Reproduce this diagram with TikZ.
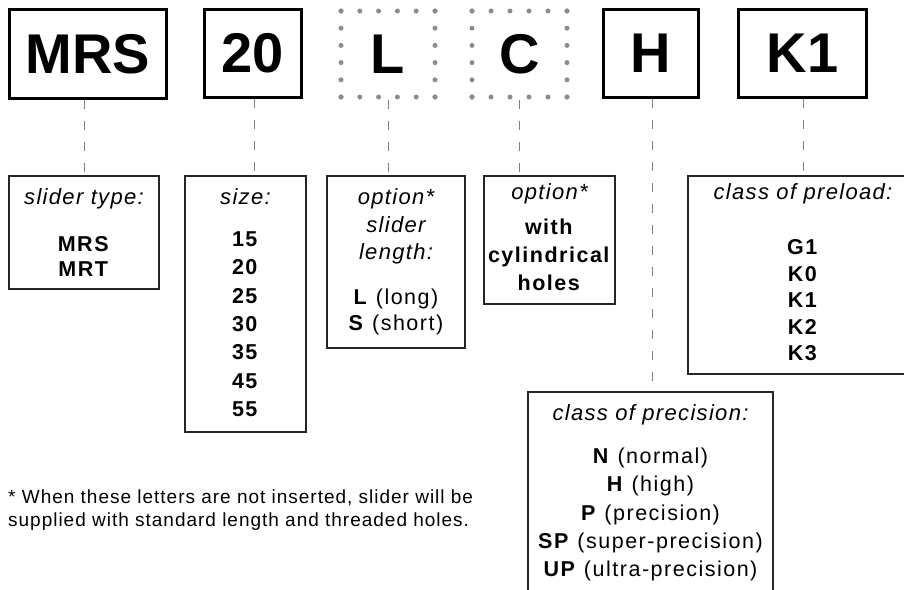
\documentclass[tikz,border=0pt]{standalone}
\usepackage{fontspec}
\setmainfont{Liberation Sans}
\newfontfamily\spc[LetterSpace=7]{Liberation Sans}
\newfontfamily\spch[LetterSpace=6]{Liberation Sans}
\newfontfamily\spcf[LetterSpace=5.2]{Liberation Sans}
\begin{document}
\begin{tikzpicture}[x=1pt,y=-1pt,
  bigbox/.style={draw=black, line width=2.2pt, inner sep=0pt, font=\fontsize{56}{60}\selectfont\bfseries},
  dotbox/.style={inner sep=0pt, font=\fontsize{56}{60}\selectfont\bfseries},
  lowbox/.style={draw=black!85, line width=1.3pt, inner sep=0pt},
  hdr/.style={anchor=base, inner sep=0pt, font=\spch\fontsize{22}{26}\selectfont\itshape},
  itm/.style={anchor=base, inner sep=0pt, font=\spc\fontsize{21.5}{25}\selectfont},
  foot/.style={anchor=base west, inner sep=0pt, font=\spcf\fontsize{19}{23}\selectfont},
  conn/.style={draw=black!50, line width=1pt, dash pattern=on 9pt off 12pt},
  dotc/.style={fill=black!45}]
\clip (0,0) rectangle (904,589);

% top code boxes
\node[bigbox, minimum width=157pt, minimum height=89pt] (mrs) at (88,54) {MRS};
\node[bigbox, minimum width=97pt, minimum height=88pt] (twenty) at (253,53.5) {20};
\node[dotbox, minimum width=94pt, minimum height=86pt] (L) at (388,54) {L};
\node[dotbox, minimum width=95pt, minimum height=86pt] (C) at (519.5,54) {C};
\node[bigbox, minimum width=95pt, minimum height=88pt] (H) at (651,53.5) {H};
\node[bigbox, minimum width=128pt, minimum height=88pt] (K) at (802.5,53.5) {K1};

% dotted frames
\foreach \i in {0,...,5} {
  \fill[dotc] ({341+\i*18.8},11) circle (2.5pt);
  \fill[dotc] ({341+\i*18.8},97) circle (2.5pt);
  \fill[dotc] (341,{11+\i*17.2}) circle (2.5pt);
  \fill[dotc] (435,{11+\i*17.2}) circle (2.5pt);
  \fill[dotc] ({472+\i*19},11) circle (2.5pt);
  \fill[dotc] ({472+\i*19},97) circle (2.5pt);
  \fill[dotc] (472,{11+\i*17.2}) circle (2.5pt);
  \fill[dotc] (567,{11+\i*17.2}) circle (2.5pt);
}

% lower boxes
\node[lowbox, minimum width=150pt, minimum height=113pt] (stype) at (84,232.5) {};
\node[lowbox, minimum width=121pt, minimum height=256pt] (size) at (245.5,304) {};
\node[lowbox, minimum width=138pt, minimum height=172pt] (slen) at (396,262) {};
\node[lowbox, minimum width=131pt, minimum height=128pt] (cyl) at (549.5,240) {};
\node[lowbox, minimum width=230pt, minimum height=198pt] (pre) at (803,275) {};
\node[lowbox, minimum width=245pt, minimum height=210pt] (prec) at (650.5,497) {};

% connector columns
\coordinate (c1) at (84,0);
\coordinate (c2) at (254,0);
\coordinate (c3) at (388,0);
\coordinate (c4) at (519,0);
\coordinate (c5) at (652,0);
\coordinate (c6) at (803,0);
\draw[conn] (mrs.south -| c1) -- (stype.north -| c1);
\draw[conn] (twenty.south -| c2) -- (size.north -| c2);
\draw[conn, shorten <=3pt] (L.south -| c3) -- (slen.north -| c3);
\draw[conn, shorten <=3pt] (C.south -| c4) -- (cyl.north -| c4);
\draw[conn] (H.south -| c5) -- (prec.north -| c5);
\draw[conn] (K.south -| c6) -- (pre.north -| c6);

% slider type
\node[hdr] (t1) at (84,204) {slider type:};
\node[itm] (t1a) at (84,251) {\textbf{MRS}};
\node[itm] (t1b) at (84,276) {\textbf{MRT}};

% size
\node[hdr] (t2) at (245.5,204) {size:};
\foreach \t [count=\i] in {15,20,25,30,35,45,55}
  \node[itm, name=sz\i] at (245.5,{246.5+(\i-1)*28.3}) {\textbf{\t}};

% slider length
\node[hdr] (t3a) at (396,204) {option*};
\node[hdr] (t3b) at (396,232) {slider};
\node[hdr] (t3c) at (396,259) {length:};
\node[itm] (t3d) at (396,304.5) {\textbf{L}\hspace{0.35em}(long)};
\node[itm] (t3e) at (396,330.5) {\textbf{S}\hspace{0.35em}(short)};

% cylindrical holes
\node[hdr] (t4a) at (549.5,199) {option*};
\node[itm] (t4b) at (549.5,234.5) {\textbf{with}};
\node[itm] (t4c) at (549.5,262.5) {\textbf{cylindrical}};
\node[itm] (t4d) at (549.5,290.5) {\textbf{holes}};

% preload
\node[hdr] (t5) at (803,199) {class of preload:};
\foreach \t [count=\i] in {G1,K0,K1,K2,K3}
  \node[itm, name=pl\i] at (803,{254.5+(\i-1)*26.5}) {\textbf{\t}};

% precision
\node[hdr] (t6) at (650.5,420) {class of precision:};
\node[itm] (p1) at (650.5,463.5) {\textbf{N}\hspace{0.35em}(normal)};
\node[itm] (p2) at (650.5,491.8) {\textbf{H}\hspace{0.35em}(high)};
\node[itm] (p3) at (650.5,520.1) {\textbf{P}\hspace{0.35em}(precision)};
\node[itm] (p4) at (650.5,548.4) {\textbf{SP}\hspace{0.35em}(super-precision)};
\node[itm] (p5) at (650.5,576.7) {\textbf{UP}\hspace{0.35em}(ultra-precision)};

% footnote
\node[foot] (f1) at (8,503) {* When these letters are not inserted, slider will be};
\node[foot] (f2) at (8,526) {supplied with standard length and threaded holes.};
\end{tikzpicture}
\end{document}
